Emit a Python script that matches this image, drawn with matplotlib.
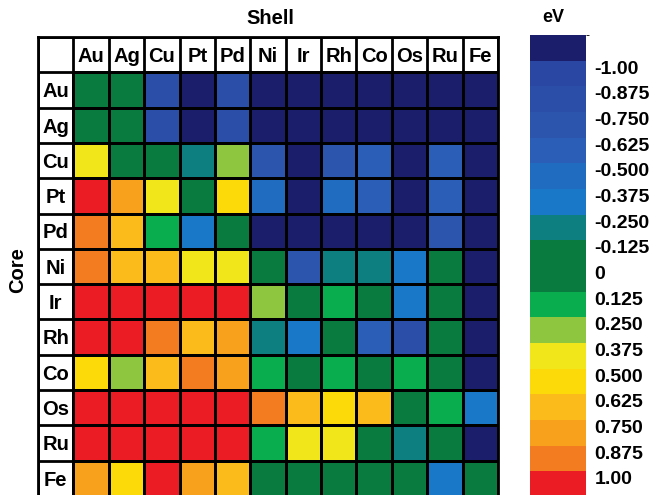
import numpy as np
import matplotlib
matplotlib.use("Agg")
import matplotlib.pyplot as plt
from matplotlib.colors import ListedColormap, BoundaryNorm
import matplotlib as mpl

plt.rcParams['font.family'] = ['Liberation Sans', 'DejaVu Sans']

elements = ["Au", "Ag", "Cu", "Pt", "Pd", "Ni", "Ir", "Rh", "Co", "Os", "Ru", "Fe"]

# Segregation energy (eV); rows = core, columns = shell
row_Au = [0.00, -0.05, -0.80, -1.30, -0.80, -1.50, -1.60, -1.40, -1.40, -1.60, -1.50, -1.50]
row_Ag = [0.05, 0.00, -0.80, -1.20, -0.80, -1.30, -1.50, -1.30, -1.30, -1.50, -1.40, -1.40]
row_Cu = [0.45, 0.05, 0.00, -0.20, 0.30, -0.68, -1.20, -0.65, -0.55, -1.20, -0.60, -1.20]
row_Pt = [1.20, 0.80, 0.45, 0.00, 0.55, -0.40, -1.30, -0.45, -0.58, -1.30, -0.55, -1.30]
row_Pd = [0.92, 0.70, 0.20, -0.32, 0.00, -1.10, -1.30, -1.10, -1.10, -1.30, -0.65, -1.20]
row_Ni = [0.90, 0.68, 0.68, 0.45, 0.42, 0.00, -0.70, -0.18, -0.20, -0.35, 0.03, -1.10]
row_Ir = [1.40, 1.30, 1.20, 1.20, 1.20, 0.30, 0.00, 0.20, 0.05, -0.35, -0.05, -1.10]
row_Rh = [1.20, 1.10, 0.90, 0.68, 0.80, -0.20, -0.33, 0.00, -0.62, -0.80, 0.05, -1.10]
row_Co = [0.55, 0.30, 0.68, 0.90, 0.80, 0.18, 0.05, 0.20, 0.00, 0.18, 0.05, -1.05]
row_Os = [1.50, 1.40, 1.30, 1.30, 1.30, 0.92, 0.70, 0.55, 0.68, 0.00, 0.20, -0.32]
row_Ru = [1.40, 1.30, 1.20, 1.20, 1.20, 0.20, 0.45, 0.42, 0.05, -0.18, 0.00, -1.05]
row_Fe = [0.80, 0.55, 1.10, 0.80, 0.70, 0.05, 0.05, 0.05, 0.05, 0.05, -0.32, 0.00]

data = np.array([row_Au, row_Ag, row_Cu, row_Pt, row_Pd, row_Ni,
                 row_Ir, row_Rh, row_Co, row_Os, row_Ru, row_Fe])

band_colors = ["#1b1f6b", "#2a48a3", "#2b4ea8", "#2c55ae", "#2b5eb6", "#1f6cc0",
               "#1a78c8", "#0d7f80", "#0a7b3e", "#0a7b3e", "#0aad4e", "#8fc640",
               "#f0e619", "#fcda0a", "#fbbb1a", "#f8a11d", "#f47c20", "#ec1c24"]
boundaries = np.arange(-1.125, 1.1251, 0.125)
tick_values = [-1.0, -0.875, -0.75, -0.625, -0.5, -0.375, -0.25, -0.125, 0,
               0.125, 0.25, 0.375, 0.5, 0.625, 0.75, 0.875, 1.0]
tick_labels = ["-1.00", "-0.875", "-0.750", "-0.625", "-0.500", "-0.375", "-0.250",
               "-0.125", "0", "0.125", "0.250", "0.375", "0.500", "0.625", "0.750",
               "0.875", "1.00"]

cmap = ListedColormap(band_colors)
cmap.set_under(band_colors[0])
cmap.set_over(band_colors[-1])
norm = BoundaryNorm(boundaries, cmap.N)

W, H = 656, 495
fig = plt.figure(figsize=(W / 100, H / 100), dpi=100)

def px_axes(x0, y0, x1, y1):
    return fig.add_axes([x0 / W, 1 - y1 / H, (x1 - x0) / W, (y1 - y0) / H])

# Table axes: 13 x 13 grid (label column + header row)
ax = px_axes(38, 37, 498, 496)
n = len(elements)
X = np.arange(0, n + 1)
Y = np.arange(0, n + 1)
ax.pcolormesh(X, Y, data, cmap=cmap, norm=norm, edgecolors="black", linewidth=2.0)
ax.set_xlim(-1, n)
ax.set_ylim(n, -1)
for i, el in enumerate(elements):
    ax.text(i + 0.5, -0.45, el, ha="center", va="center", fontsize=14.5,
            fontweight="bold", color="black")
    ax.text(-0.5, i + 0.55, el, ha="center", va="center", fontsize=14.5,
            fontweight="bold", color="black")
for k in range(-1, n + 1):
    ax.axvline(k, color="black", lw=2.0)
    ax.axhline(k, color="black", lw=2.0)
ax.set_xticks([])
ax.set_yticks([])
for s in ax.spines.values():
    s.set_linewidth(2.0)

fig.text(270 / W, 1 - 19 / H, "Shell", ha="center", va="center",
         fontsize=14.5, fontweight="bold")
fig.text(18 / W, 1 - 270 / H, "Core", ha="center", va="center", rotation=90,
         fontsize=14.5, fontweight="bold")

# Colorbar
cax = px_axes(530, 35, 586, 497)
cb = mpl.colorbar.ColorbarBase(cax, cmap=cmap, norm=norm, boundaries=boundaries,
                               orientation="vertical", ticks=tick_values)
cb.outline.set_visible(False)
cax.invert_yaxis()
cb.set_ticklabels(tick_labels)
cax.tick_params(length=0, pad=6, labelsize=14)
for lbl in cax.get_yticklabels():
    lbl.set_fontweight("bold")
    lbl.set_va("top")
fig.text(553 / W, 1 - 18 / H, "eV", ha="center", va="center",
         fontsize=13, fontweight="bold")

fig.savefig("out.png", dpi=100)
